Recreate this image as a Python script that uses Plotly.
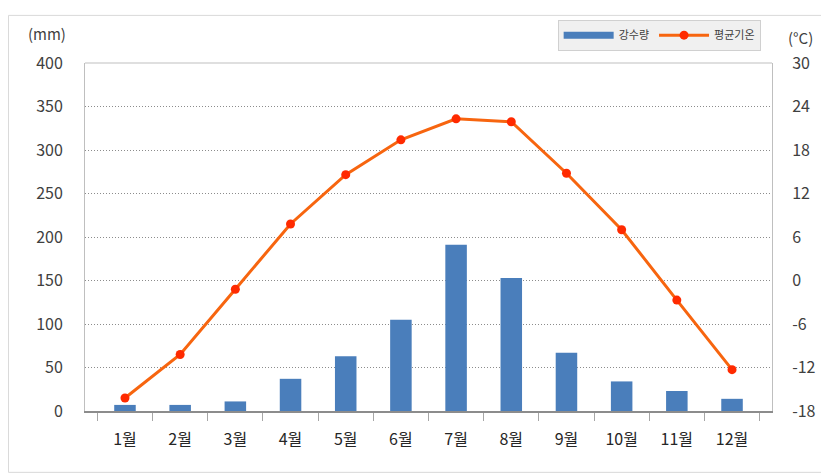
import plotly.graph_objects as go

months = ["1월", "2월", "3월", "4월", "5월", "6월", "7월", "8월", "9월", "10월", "11월", "12월"]
precip = [7, 7, 11, 37, 63, 105, 191, 153, 67, 34, 23, 14]
temp = [-16.2, -10.2, -1.2, 7.8, 14.6, 19.4, 22.3, 21.9, 14.8, 7.0, -2.7, -12.3]
left_ticks = [0, 50, 100, 150, 200, 250, 300, 350, 400]
right_ticks = [-18, -12, -6, 0, 6, 12, 18, 24, 30]
right_labels = ["-18", "-12", "-6", "0", "6", "12", "18", "24", "30"]

FONT = "Noto Sans CJK KR"
BLUE = "#4a7ebb"
ORANGE = "#f7650f"
RED = "#ff2a00"
TXT = "#404040"

fig = go.Figure()
fig.add_trace(go.Bar(x=months, y=precip, name="강수량", marker=dict(color=BLUE, line=dict(width=0)),
                     width=0.39, showlegend=False, yaxis="y"))
# legend proxy for the bar series (long bar symbol like the reference)
fig.add_trace(go.Scatter(x=[None], y=[None], mode="lines", name="강수량",
                         line=dict(color=BLUE, width=7), yaxis="y"))
fig.add_trace(go.Scatter(x=months, y=temp, name="평균기온", mode="lines+markers",
                         line=dict(color=ORANGE, width=3),
                         marker=dict(color=RED, size=9, line=dict(width=0)), yaxis="y2"))

fig.update_layout(
    width=821, height=468,
    margin=dict(l=77, r=57, t=49, b=64.5),
    paper_bgcolor="white", plot_bgcolor="white",
    font=dict(family=FONT, color=TXT, size=16),
    xaxis=dict(type="category", showline=True, linecolor="#8c8c8c", linewidth=1.5,
               mirror=False, ticks="outside", tickson="boundaries", ticklen=8,
               tickcolor="#a6a6a6", showgrid=False, ticklabelstandoff=13,
               tickfont=dict(size=16, color="#262626")),
    yaxis=dict(range=[0, 400], tickvals=left_ticks, showgrid=True, gridcolor="#8c8c8c",
               griddash="1px,2px", gridwidth=1, showline=True, linecolor="#bfbfbf",
               zeroline=False, ticks="", ticklabelstandoff=18,
               tickfont=dict(size=16, color=TXT)),
    yaxis2=dict(range=[-18, 30], tickvals=right_ticks, ticktext=right_labels,
                overlaying="y", side="right",
                showgrid=False, showline=True, linecolor="#bfbfbf", zeroline=False,
                ticks="", ticklabelstandoff=16, tickfont=dict(size=16, color=TXT)),
    legend=dict(orientation="h", x=0.688, y=1.1245, xanchor="left", yanchor="top",
                bgcolor="#f0f0f0", bordercolor="#d0d0d0", borderwidth=1,
                font=dict(size=11, color=TXT), itemwidth=50, tracegroupgap=0),
    bargap=0.6,
    showlegend=True,
)

# top border of the plot area
fig.add_shape(type="line", xref="paper", yref="paper", x0=0, x1=1, y0=1, y1=1,
              line=dict(color="#bfbfbf", width=1))
# outer chart border
fig.add_shape(type="rect", xref="paper", yref="paper", x0=-0.1114, x1=1.0786, y0=-0.1763, y1=1.1368,
              line=dict(color="#d9d9d9", width=1))

fig.add_annotation(text="(mm)", xref="paper", yref="paper", x=-0.055, y=1.085,
                   xanchor="center", yanchor="middle", showarrow=False,
                   font=dict(size=15, color=TXT, family=FONT))
fig.add_annotation(text="(°C)", xref="paper", yref="paper", x=1.042, y=1.073,
                   xanchor="center", yanchor="middle", showarrow=False,
                   font=dict(size=15, color=TXT, family=FONT))

fig.write_html("out.html")
